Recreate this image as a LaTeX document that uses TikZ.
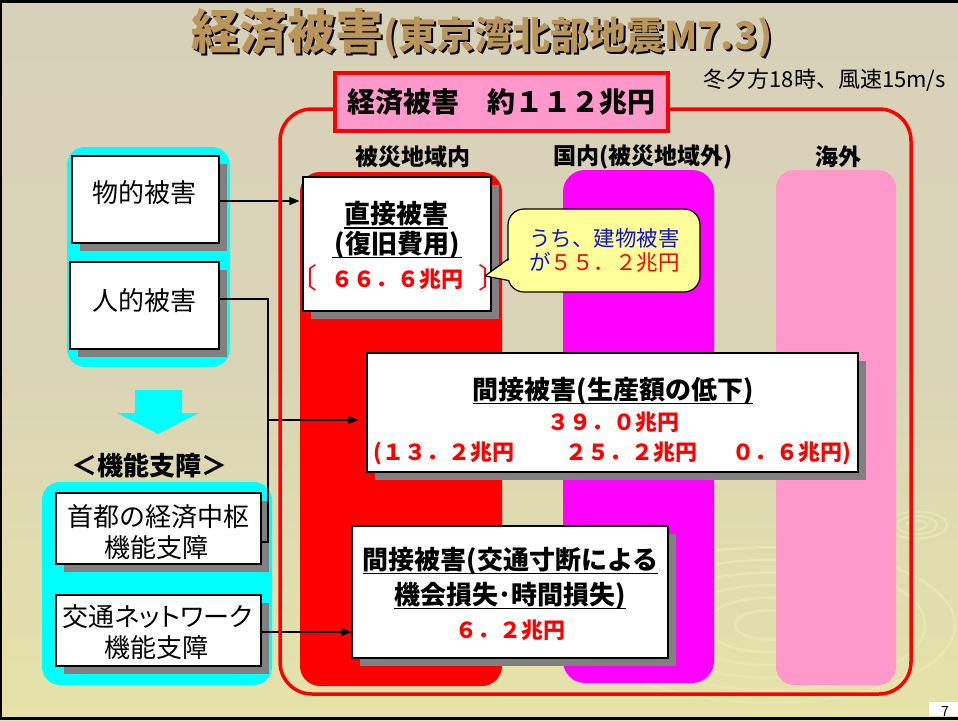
\documentclass[tikz,border=0pt]{standalone}
\usepackage{fontspec}
\setmainfont{Noto Sans CJK JP}
\newfontfamily\jpp{Noto Sans CJK JP}[RawFeature=+palt]
\usetikzlibrary{arrows.meta,shadows}
\definecolor{bgtop}{RGB}{216,209,186}
\definecolor{bgmid}{RGB}{218,212,182}
\definecolor{bgbot}{RGB}{230,227,168}
\definecolor{ripplec}{RGB}{234,230,178}
\definecolor{gold}{RGB}{186,150,90}
\definecolor{cyanc}{RGB}{0,255,255}
\definecolor{redc}{RGB}{255,0,0}
\definecolor{magc}{RGB}{255,0,255}
\definecolor{pinkc}{RGB}{255,153,204}
\definecolor{shadowc}{RGB}{128,128,128}
\definecolor{calloutc}{RGB}{255,255,153}
\definecolor{bluet}{RGB}{20,20,200}
\newsavebox\ulbox
\newcommand\ulin[1]{\sbox\ulbox{#1}\leavevmode\rlap{\raisebox{0pt}[0pt][0pt]{\rule[-5pt]{\wd\ulbox}{1.8pt}}}\usebox\ulbox}
\newcommand\titlebody{{\fontsize{48}{48}\selectfont 経済被害}{\fontsize{38}{38}\selectfont (東京湾北部地震M7.3)}}
\newcommand\titletext{\bfseries\rlap{\raisebox{-2pt}{\kern2pt\textcolor{black}{\titlebody}}}\textcolor{gold}{\titlebody}}
\begin{document}
\begin{tikzpicture}[x=1pt,y=-1pt,
  box/.style={draw=black, line width=1.2pt, fill=white, inner sep=0pt,
    drop shadow={shadow xshift=8pt, shadow yshift=-8pt, fill=shadowc, opacity=1}},
  grp/.style={fill=cyanc, rounded corners=18pt, inner sep=0pt},
  colbox/.style={inner sep=0pt, draw=none},
  hdr/.style={inner sep=0pt, font=\fontsize{23}{23}\selectfont\bfseries},
  lt/.style={inner sep=0pt, font=\fontsize{26}{26}\selectfont},
  bt/.style={inner sep=0pt, font=\fontsize{26}{26}\selectfont\bfseries},
  amt/.style={inner sep=0pt, text=redc, font=\fontsize{22}{22}\selectfont\bfseries},
  brk/.style={inner sep=0pt, text=redc, font=\fontsize{28}{28}\selectfont},
  ct/.style={inner sep=0pt, text=bluet, font=\fontsize{21.5}{21.5}\selectfont},
  conn/.style={draw=black, line width=1.2pt},
  arr/.style={conn, -{Triangle[length=10pt,width=8pt]}}
]
\useasboundingbox (0,0) rectangle (958,720);
% background
\shade[top color=bgtop, bottom color=bgbot, middle color=bgmid] (0,0) rectangle (958,720);
\foreach \r in {35,65,95,125,155,185}
  \draw[ripplec, line width=2.5pt] (770,625) ellipse [x radius=\r pt, y radius=0.42*\r pt];
\foreach \r in {10,20,30}
  \draw[ripplec, line width=2pt] (917,525) ellipse [x radius=\r pt, y radius=0.45*\r pt];
\fill[black] (0,0) rectangle (958,2.5);
\fill[black] (0,0) rectangle (2,720);
\fill[black] (0,716.5) rectangle (958,720);
\node[fill=white, inner sep=0pt, minimum width=29pt, minimum height=14pt] (pgbox) at (943.5,709) {};
\node[inner sep=0pt, anchor=base, font=\fontsize{14}{14}\selectfont] (pgnum) at (945,716) {7};

% title
\node[anchor=base west, inner sep=0pt] (title) at (191,49.5) {\titletext};
\node[anchor=east, inner sep=0pt, font=\fontsize{22}{22}\selectfont] (note) at (946,80) {冬夕方18時、風速15m/s};

% columns
\node[colbox, fill=redc, minimum width=202pt, minimum height=514pt, rounded corners=20pt] (colR) at (401,429) {};
\node[colbox, fill=magc, minimum width=151pt, minimum height=513pt, rounded corners=22pt] (colM) at (638.5,426.5) {};
\node[colbox, fill=pinkc, minimum width=120pt, minimum height=515pt, rounded corners=18pt] (colP) at (836,427.5) {};
\node[hdr] (hR) at (413,157) {被災地域内};
\node[hdr] (hM) at (643,157) {国内(被災地域外)};
\node[hdr] (hP) at (838,157) {海外};

% left groups
\node[grp, minimum width=163pt, minimum height=220pt] (grp1) at (148.5,257) {};
\node[grp, minimum width=230pt, minimum height=203pt] (grp2) at (157,583.5) {};
\node[box, minimum width=147pt, minimum height=87pt] (phys) at (145.5,199.5) {};
\node[lt] (physT) at (144.5,193) {物的被害};
\node[box, minimum width=149pt, minimum height=87pt] (human) at (144.5,305.5) {};
\node[lt] (humanT) at (144,300.5) {人的被害};
\fill[cyanc] (135,390) -- (182,390) -- (182,413) -- (199,413) -- (158,434) -- (117,413) -- (135,413) -- cycle;
\node[inner sep=0pt, font=\fontsize{26}{26}\selectfont\bfseries] (kinou) at (149,466) {＜機能支障＞};
\node[box, minimum width=205pt, minimum height=71pt] (capital) at (158.5,528.5) {};
\node[lt] (capT1) at (158.5,517) {首都の経済中枢};
\node[lt] (capT2) at (156.5,548) {機能支障};
\node[box, minimum width=205pt, minimum height=71pt] (traffic) at (158.5,630.5) {};
\node[lt] (trT1) at (157.5,617) {\jpp 交通ネットワーク};
\node[lt] (trT2) at (156.5,648) {機能支障};

% direct damage
\node[box, minimum width=188pt, minimum height=134pt] (direct) at (397,244) {};
\node[bt] (dT1) at (396,214) {\ulin{直接被害}};
\node[bt] (dT2) at (397,245) {\ulin{\kern3pt(復旧費用)\kern3pt}};
\node[amt] (dT3) at (397,279) {６６．６兆円};
\node[brk] (lbr) at (303,278) {〔};
\node[brk] (rbr) at (492,278) {〕};

% callout
\node[fill=calloutc, draw=black, line width=1.2pt, rounded corners=16pt, inner sep=0pt,
  minimum width=192pt, minimum height=83pt] (callout) at (604,250.5) {};
\coordinate (tipc) at (485,276);
\coordinate (tA) at (508.6,258.5);
\coordinate (tB) at (508.6,280.5);
\fill[calloutc] ([xshift=3pt]tA) -- (tipc) -- ([xshift=3pt]tB) -- cycle;
\draw[line width=1.2pt, line join=round] (tA) -- (tipc) -- (tB);
\node[ct] (cT1) at (604.5,238) {うち、建物被害};
\node[ct] (cT2) at (604.5,262) {が\textcolor{redc}{５５．２兆円}};

% indirect 1
\node[box, minimum width=491pt, minimum height=119pt] (ind1) at (612.5,412.5) {};
\node[bt] (i1T1) at (613,391) {\ulin{間接被害(生産額の低下)}};
\node[amt] (i1T2) at (613,422) {３９．０兆円};
\node[amt] (i1T3) at (612.5,453) {(１３．２兆円\hspace{51pt}２５．２兆円\hspace{35pt}０．６兆円)};

% indirect 2
\node[box, minimum width=316pt, minimum height=132pt] (ind2) at (510,592) {};
\node[bt] (i2T1) at (510.5,561) {\ulin{間接被害(交通寸断による}};
\node[bt] (i2T2) at (510,596) {\ulin{機会損失･時間損失)}};
\node[amt] (i2T3) at (510,630) {６．２兆円};

% connectors
\coordinate (jn) at (268,420);
\draw[conn] ([yshift=6.5pt]human.east) -| (jn);
\draw[conn] ([yshift=-13.5pt]capital.east) -| (jn);
\draw[arr, shorten >=8pt] (jn) -- (jn -| ind1.west);
\draw[arr, shorten >=3pt] ([yshift=-1.5pt]phys.east) -- ([yshift=-1.5pt]phys.east -| direct.west);
\draw[arr] ([yshift=-1.5pt]traffic.east) -- ([yshift=-1.5pt]traffic.east -| ind2.west);

% frame and headline box
\node[draw=redc, line width=3.5pt, rounded corners=32pt, inner sep=0pt,
  minimum width=631pt, minimum height=585pt] (frame) at (595.5,401.5) {};
\node[draw=redc, fill=pinkc, line width=4pt, inner sep=0pt,
  minimum width=333pt, minimum height=58pt] (total) at (501.5,102) {};
\node[inner sep=0pt, font=\fontsize{28}{28}\selectfont\bfseries] (totalT) at (501,102) {経済被害　約１１２兆円};
\end{tikzpicture}
\end{document}
